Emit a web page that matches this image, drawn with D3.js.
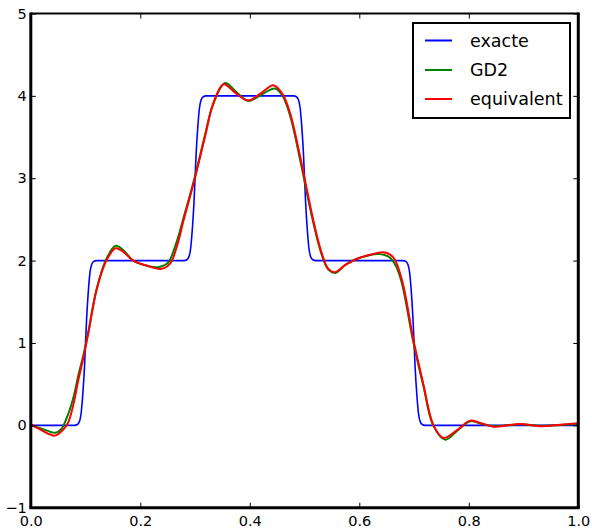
<!DOCTYPE html>
<html>
<head>
<meta charset="utf-8">
<script src="https://cdn.jsdelivr.net/npm/d3@7/dist/d3.min.js"></script>
<style>
  html, body { margin: 0; padding: 0; background: #fff; }
  svg { display: block; }
</style>
</head>
<body>
<svg id="chart" width="592" height="528"></svg>
<script>
// ---- data ----
const xTicks = [0.0, 0.2, 0.4, 0.6, 0.8, 1.0];
const xTickLabels = ["0.0", "0.2", "0.4", "0.6", "0.8", "1.0"];
const yTicks = [-1, 0, 1, 2, 3, 4, 5];
const yTickLabels = ["\u22121", "0", "1", "2", "3", "4", "5"];
const seriesNames = ["exacte", "GD2", "equivalent"];
const seriesColors = ["#0000ff", "#008000", "#ff0000"];

const exacte = [
  [0,0],[0.08,0],[0.085,0.01],[0.089,0.05],[0.092,0.15],[0.095,0.38],[0.098,0.7],[0.1,1.0],
  [0.102,1.3],[0.105,1.62],[0.108,1.85],[0.111,1.95],[0.115,1.99],[0.12,2.0],
  [0.28,2.0],[0.285,2.01],[0.289,2.05],[0.292,2.15],[0.295,2.38],[0.298,2.7],[0.3,3.0],
  [0.302,3.3],[0.305,3.62],[0.308,3.85],[0.311,3.95],[0.315,3.99],[0.32,4.0],
  [0.48,4.0],[0.485,3.99],[0.489,3.95],[0.492,3.85],[0.495,3.62],[0.498,3.3],[0.5,3.0],
  [0.502,2.7],[0.505,2.38],[0.508,2.15],[0.511,2.05],[0.515,2.01],[0.52,2.0],
  [0.68,2.0],[0.685,1.99],[0.689,1.95],[0.692,1.85],[0.695,1.62],[0.698,1.3],[0.7,1.0],
  [0.702,0.7],[0.705,0.38],[0.708,0.15],[0.711,0.05],[0.715,0.01],[0.72,0],[1.0,0]
];

const gd2 = [
  [0,0.0],[0.02,-0.04],[0.045,-0.09],[0.055,-0.05],[0.065,0.08],[0.078,0.34],[0.0865,0.6],
  [0.096,0.85],[0.105,1.13],[0.12,1.65],[0.138,2.02],[0.155,2.18],[0.17,2.12],[0.187,2.0],
  [0.211,1.94],[0.232,1.92],[0.25,1.97],[0.265,2.2],[0.279,2.52],[0.297,2.95],[0.318,3.52],
  [0.333,3.9],[0.355,4.155],[0.375,4.05],[0.397,3.94],[0.42,4.01],[0.446,4.09],[0.46,4.0],
  [0.474,3.75],[0.492,3.22],[0.504,2.83],[0.516,2.46],[0.53,2.1],[0.5435,1.89],[0.556,1.85],
  [0.575,1.95],[0.595,2.02],[0.615,2.06],[0.635,2.08],[0.655,2.04],[0.668,1.92],[0.678,1.72],
  [0.699,1.0],[0.717,0.48],[0.735,0.0],[0.757,-0.174],[0.778,-0.07],[0.803,0.05],[0.825,0.015],
  [0.845,-0.01],[0.87,0.0],[0.894,0.012],[0.93,-0.005],[0.967,0.005],[1.0,0.015]
];

const equivalent = [
  [0,0.015],[0.02,-0.06],[0.044,-0.125],[0.058,-0.06],[0.068,0.03],[0.078,0.26],[0.0865,0.54],
  [0.096,0.82],[0.105,1.12],[0.12,1.64],[0.138,2.0],[0.155,2.15],[0.17,2.1],[0.187,2.0],
  [0.211,1.94],[0.239,1.9],[0.255,1.97],[0.268,2.2],[0.279,2.49],[0.297,2.93],[0.318,3.5],
  [0.333,3.9],[0.352,4.14],[0.375,4.03],[0.397,3.945],[0.42,4.03],[0.443,4.13],[0.46,4.02],
  [0.474,3.78],[0.492,3.26],[0.504,2.87],[0.516,2.49],[0.53,2.12],[0.5435,1.9],[0.556,1.86],
  [0.575,1.95],[0.595,2.02],[0.62,2.07],[0.644,2.1],[0.662,2.04],[0.678,1.76],[0.699,1.03],
  [0.717,0.5],[0.7355,0.0],[0.754,-0.153],[0.778,-0.06],[0.803,0.057],[0.825,0.02],
  [0.845,-0.016],[0.87,0.0],[0.894,0.017],[0.93,-0.01],[0.967,0.008],[1.0,0.025]
];

const allSeries = [exacte, gd2, equivalent];

// ---- layout ----
const svg = d3.select("#chart");
const L = 30.8, R = 578.3, T = 13.5, B = 507.7;
const x = d3.scaleLinear().domain([0, 1]).range([L, R]);
const y = d3.scaleLinear().domain([-1, 5]).range([B, T]);
const font = "'DejaVu Sans', sans-serif";

svg.append("defs").append("clipPath").attr("id", "clip")
  .append("rect").attr("x", L).attr("y", T).attr("width", R - L).attr("height", B - T);

// lines
const line = d3.line().x(d => x(d[0])).y(d => y(d[1]));
const widths = [1.6, 2, 2];
const curves = [d3.curveMonotoneX, d3.curveCatmullRom.alpha(0.5), d3.curveCatmullRom.alpha(0.5)];
const g = svg.append("g").attr("clip-path", "url(#clip)");
allSeries.forEach((s, i) => {
  g.append("path")
    .attr("d", line.curve(curves[i])(s))
    .attr("fill", "none")
    .attr("stroke", seriesColors[i])
    .attr("stroke-width", widths[i])
    .attr("stroke-linejoin", "round");
});

// axes with inward ticks on all sides
const tl = 5;
const axB = d3.axisBottom(x).tickValues(xTicks).tickSize(-tl).tickFormat((d, i) => xTickLabels[i]);
const axT = d3.axisTop(x).tickValues(xTicks).tickSize(-tl).tickFormat("");
const axL = d3.axisLeft(y).tickValues(yTicks).tickSize(-tl).tickFormat((d, i) => yTickLabels[i]);
const axR = d3.axisRight(y).tickValues(yTicks).tickSize(-tl).tickFormat("");

function style(gAx) {
  gAx.select(".domain").remove();
  gAx.selectAll(".tick line").attr("stroke", "#000").attr("stroke-width", 1);
  gAx.selectAll("text").attr("fill", "#000").style("font-family", font).style("font-size", "14.5px");
}
const gB = svg.append("g").attr("transform", `translate(0,${B})`).call(axB).call(style);
gB.selectAll("text").attr("y", 18.5).attr("dy", "0");
svg.append("g").attr("transform", `translate(0,${T})`).call(axT).call(style);
const gL = svg.append("g").attr("transform", `translate(${L},0)`).call(axL).call(style);
gL.selectAll("text").attr("x", -4);
svg.append("g").attr("transform", `translate(${R},0)`).call(axR).call(style);

// frame
svg.append("line").attr("x1", L).attr("x2", R).attr("y1", T).attr("y2", T).attr("stroke", "#000").attr("stroke-width", 2);
svg.append("line").attr("x1", L - 1.5).attr("x2", R + 1.5).attr("y1", B).attr("y2", B).attr("stroke", "#000").attr("stroke-width", 3);
svg.append("line").attr("x1", L).attr("x2", L).attr("y1", T - 1).attr("y2", B).attr("stroke", "#000").attr("stroke-width", 3);
svg.append("line").attr("x1", R).attr("x2", R).attr("y1", T - 1).attr("y2", B).attr("stroke", "#000").attr("stroke-width", 3);

// legend
const lg = svg.append("g");
lg.append("rect").attr("x", 413).attr("y", 23).attr("width", 157).attr("height", 95)
  .attr("fill", "#fff").attr("stroke", "#000").attr("stroke-width", 2);
const rowY = [40.5, 70, 99];
seriesNames.forEach((n, i) => {
  lg.append("line").attr("x1", 425).attr("x2", 452).attr("y1", rowY[i]).attr("y2", rowY[i])
    .attr("stroke", seriesColors[i]).attr("stroke-width", 2);
  lg.append("text").attr("x", 470).attr("y", rowY[i]).attr("dy", "0.35em")
    .style("font-family", font).style("font-size", "17.5px").attr("fill", "#000").text(n);
});
</script>
</body>
</html>
